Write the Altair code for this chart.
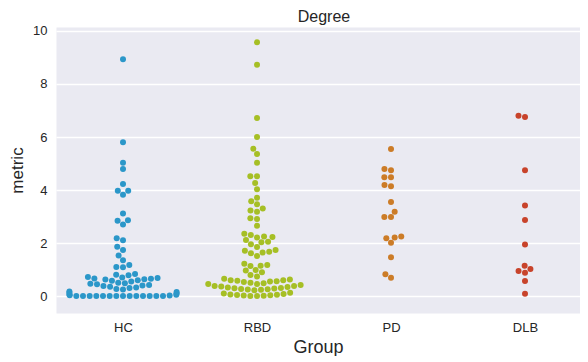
import json
import math
import altair as alt
import pandas as pd

groups = ["HC", "RBD", "PD", "DLB"]
colors = ["#2b97c9", "#a6bf25", "#cc7c27", "#c8432b"]

hc = [0.0] * 14 + [0.02, 0.03, 0.05, 0.06, 0.10, 0.12, 0.15, 0.17,
      0.25, 0.27, 0.30, 0.32, 0.35, 0.38, 0.40, 0.42, 0.44, 0.46, 0.48, 0.50,
      0.55, 0.58, 0.60, 0.62, 0.63, 0.65, 0.66, 0.68, 0.70, 0.72,
      0.78, 0.80, 0.83, 1.09, 1.10, 1.17, 1.35, 1.53, 1.74, 1.86, 2.10, 2.18,
      2.70, 2.84, 2.86, 3.11, 3.82, 3.97, 3.97, 4.23, 4.79, 5.03, 5.80, 8.93]
rbd = [9.57, 8.73, 6.72, 6.00, 5.56, 5.36, 5.03, 4.52, 4.52, 4.26, 4.03, 3.71,
       3.58, 3.46, 3.30, 3.23, 3.18, 2.93, 2.91, 2.65, 2.35, 2.30, 2.25, 2.23,
       2.21, 2.11, 2.05, 2.03, 1.95, 1.85, 1.74, 1.71, 1.67, 1.64, 1.61, 1.51,
       1.22, 1.17, 1.14, 1.13, 0.98, 0.96, 0.90, 0.79, 0.74,
       0.65, 0.62, 0.60, 0.60, 0.58, 0.56, 0.55, 0.53, 0.50, 0.48, 0.45, 0.45, 0.42,
       0.38, 0.38, 0.36, 0.34, 0.32, 0.30, 0.29, 0.28, 0.27, 0.26, 0.25, 0.24, 0.22,
       0.12, 0.10, 0.08, 0.06, 0.05, 0.04, 0.03, 0.02, 0.01, 0.0, 0.0]
pd_vals = [5.55, 4.79, 4.75, 4.48, 4.48, 4.19, 4.14, 3.55, 3.18, 2.98, 2.98,
           2.25, 2.21, 2.18, 2.01, 1.46, 0.82, 0.69]
dlb = [6.80, 6.75, 4.75, 3.42, 2.87, 1.94, 1.14, 1.02, 0.94, 0.88, 0.57, 0.09]
series = [hc, rbd, pd_vals, dlb]

y_ticks = [0, 2, 4, 6, 8, 10]
y_domain = [-0.64, 10.15]

PX_PER_X = 134.0
PLOT_W = 524
PLOT_H = 286
x_domain = [-0.5, -0.5 + PLOT_W / PX_PER_X]
px_per_y = PLOT_H / (y_domain[1] - y_domain[0])
D = 6.35  # marker diameter in px used for swarm layout
HALF = 0.4 * PX_PER_X


def swarm(values):
    order = sorted(range(len(values)), key=lambda i: values[i])
    placed = []
    offs = [0.0] * len(values)
    for i in order:
        y = values[i] * px_per_y
        neighbors = [p for p in reversed(placed) if abs(p[1] - y) < D]
        cands = [0.0]
        left_first = True
        for (px, py) in neighbors:
            dy = y - py
            dx = math.sqrt(max(D * D - dy * dy, 0)) * 1.05
            cl, cr = px - dx, px + dx
            cands += [cl, cr] if left_first else [cr, cl]
            left_first = not left_first
        cands = sorted(cands, key=abs)
        chosen = cands[-1]
        for c in cands:
            if all((c - px) ** 2 + (y - py) ** 2 >= D * D - 1e-6 for (px, py) in neighbors):
                chosen = c
                break
        placed.append((chosen, y))
        offs[i] = max(-HALF, min(HALF, chosen))
    return offs


rows = []
for gi, (g, vals) in enumerate(zip(groups, series)):
    offs = swarm(vals)
    for v, o in zip(vals, offs):
        rows.append({"Group": g, "metric": v, "xpos": gi + o / PX_PER_X})
df = pd.DataFrame(rows)

label_expr = json.dumps(groups) + "[datum.value]"
FONT = "Liberation Sans, Arial, sans-serif"
TXT = "#262626"

chart = alt.Chart(df).mark_circle(size=36, opacity=1).encode(
    x=alt.X("xpos:Q", scale=alt.Scale(domain=x_domain, nice=False, zero=False),
            axis=alt.Axis(title="Group", values=[0, 1, 2, 3], labelExpr=label_expr,
                          grid=False, domain=False, ticks=False, labelFontSize=13,
                          labelColor=TXT, labelPadding=8, titleFontSize=18,
                          titleColor=TXT, titleFontWeight="normal", titlePadding=4,
                          labelFont=FONT, titleFont=FONT)),
    y=alt.Y("metric:Q", scale=alt.Scale(domain=y_domain, nice=False, zero=False),
            axis=alt.Axis(title="metric", values=y_ticks, format="d", grid=True,
                          gridColor="white", gridWidth=1.3, domain=False, ticks=False,
                          labelFontSize=13, labelColor=TXT, labelPadding=9,
                          titleFontSize=17, titleColor=TXT, titleFontWeight="normal",
                          titlePadding=6, labelFont=FONT, titleFont=FONT)),
    color=alt.Color("Group:N", scale=alt.Scale(domain=groups, range=colors), legend=None),
).properties(
    width=PLOT_W, height=PLOT_H,
    title=alt.TitleParams("Degree", fontSize=16, fontWeight="normal", color=TXT,
                          font=FONT, offset=5, dx=6, dy=5),
    autosize=alt.AutoSizeParams(type="none"),
    padding={"left": 48, "top": 19, "right": 0, "bottom": 43},
).configure_view(fill="#EAEAF2", stroke="transparent")

chart.save("out.html", embed_options={"renderer": "svg", "actions": False})
